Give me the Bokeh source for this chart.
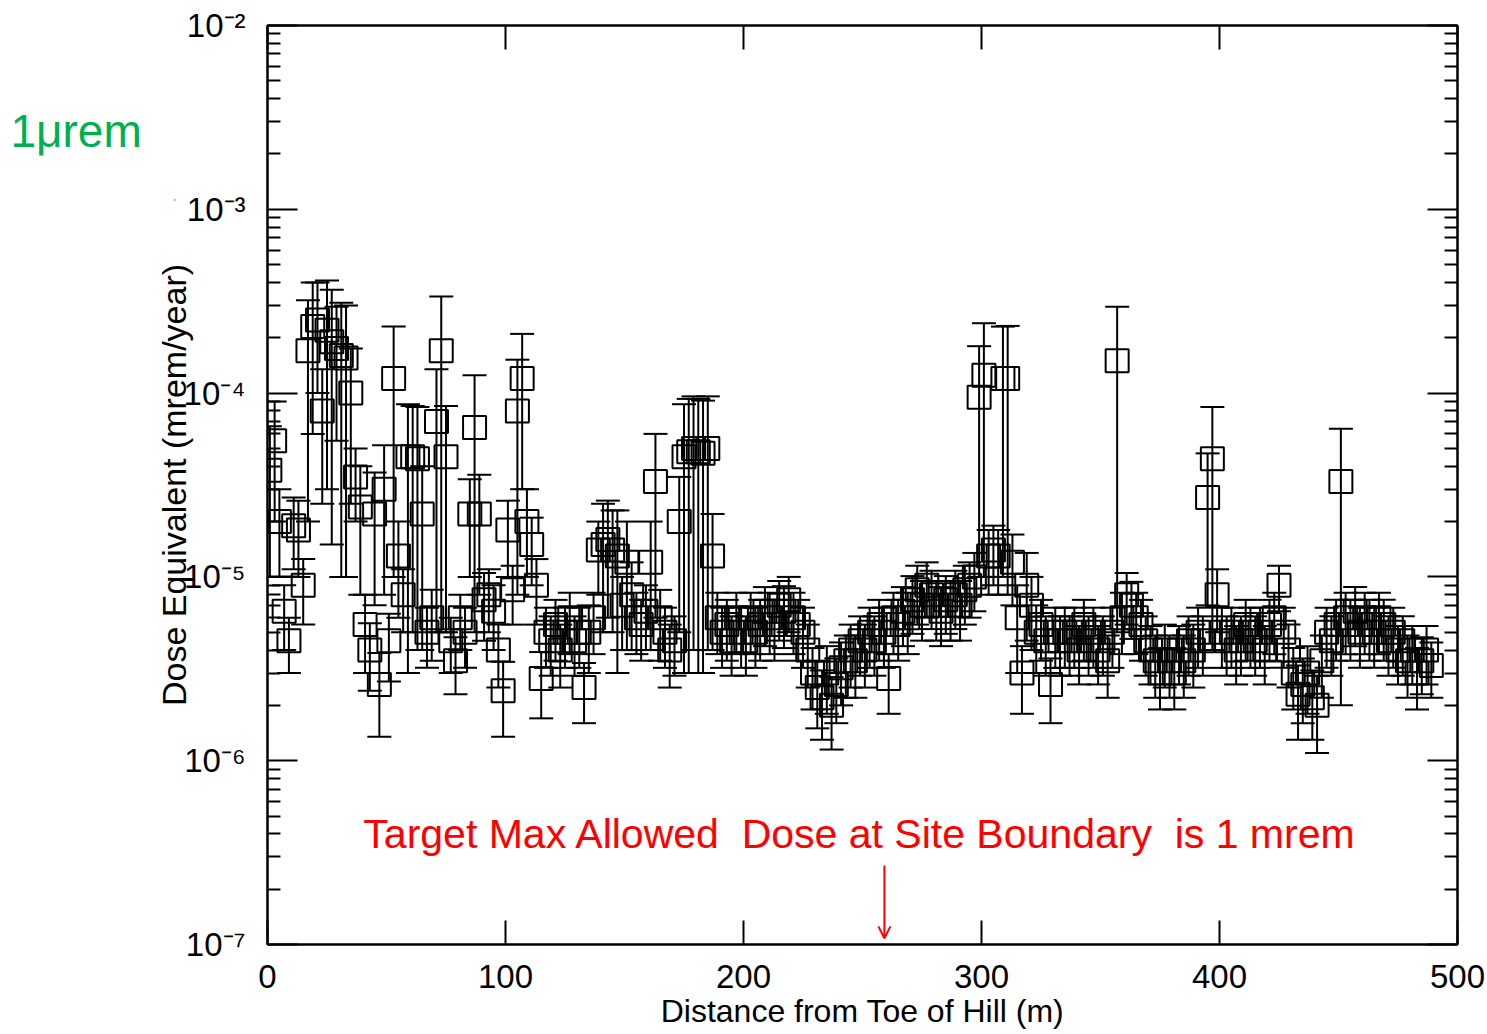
import numpy as np
from bokeh.plotting import figure
from bokeh.models import (ColumnDataSource, Whisker, TeeHead, FixedTicker, LogAxis,
                          LinearAxis, Label, Arrow, OpenHead, Range1d)
from bokeh.embed import file_html
from bokeh.resources import INLINE

# ---- data (dose in units of 1e-6 mrem/year) ----
distance_m = [
    1, 3, 5, 7, 9, 11, 13, 15, 17, 19,
    21, 23, 25, 27, 29, 31, 33, 35, 37, 39,
    41, 43, 45, 47, 49, 51, 53, 55, 57, 59,
    61, 63, 65, 67, 69, 71, 73, 75, 77, 79,
    81, 83, 85, 87, 89, 91, 93, 95, 97, 99,
    101, 103, 105, 107, 109, 111, 113, 115, 117, 119,
    121, 123, 125, 127, 129, 131, 133, 135, 137, 139,
    141, 143, 145, 147, 149, 151, 153, 155, 157, 159,
    161, 163, 165, 167, 169, 171, 173, 175, 177, 179,
    181, 183, 185, 187, 189, 191, 193, 195, 197, 199,
    201, 203, 205, 207, 209, 211, 213, 215, 217, 219,
    221, 223, 225, 227, 229, 231, 233, 235, 237, 239,
    241, 243, 245, 247, 249, 251, 253, 255, 257, 259,
    261, 263, 265, 267, 269, 271, 273, 275, 277, 279,
    281, 283, 285, 287, 289, 291, 293, 295, 297, 299,
    301, 303, 305, 307, 309, 311, 313, 315, 317, 319,
    321, 323, 325, 327, 329, 331, 333, 335, 337, 339,
    341, 343, 345, 347, 349, 351, 353, 355, 357, 359,
    361, 363, 365, 367, 369, 371, 373, 375, 377, 379,
    381, 383, 385, 387, 389, 391, 393, 395, 397, 399,
    401, 403, 405, 407, 409, 411, 413, 415, 417, 419,
    421, 423, 425, 427, 429, 431, 433, 435, 437, 439,
    441, 443, 445, 447, 449, 451, 453, 455, 457, 459,
    461, 463, 465, 467, 469, 471, 473, 475, 477, 479,
    481, 483, 485, 487, 489,
]

dose_u = [
    38, 55, 20, 6.5, 4.5, 19, 18, 9, 170, 230,
    250, 80, 220, 190, 175, 160, 155, 100, 35, 24,
    5.5, 4.0, 22, 2.6, 30, 4.5, 120, 13, 8, 45,
    45, 44, 22, 5, 6, 70, 170, 45, 4.5, 3.5,
    6, 5, 22, 65, 22, 7.5, 8, 6.5, 4, 2.4,
    18, 8.5, 80, 120, 20, 15, 9, 2.8, 5, 4.5,
    5.5, 4, 5, 6, 4.5, 5, 2.5, 5, 6, 14,
    15, 16, 14, 13, 7, 12, 8, 6, 5.5, 6.5,
    12, 33, 6, 5, 4, 4.5, 20, 45, 48, 50,
    48, 47, 50, 13, 6, 5, 5.5, 4.5, 6, 5,
    4.5, 6, 5, 5.5, 6.5, 6, 5.5, 7, 6.5, 7.5,
    6, 5.5, 5, 4, 3, 2.5, 2.2, 3, 2.0, 2.6,
    3.2, 3.5, 4, 3.5, 4.5, 4, 5, 4.5, 5.5, 5,
    2.8, 6, 5.5, 6.5, 6, 7.5, 8.5, 7, 9, 8,
    7, 6.5, 7.5, 7, 8, 7, 8.5, 9, 10, 95,
    125, 13, 14, 13, 120, 120, 12, 6, 3, 9,
    7, 5, 5.5, 4.5, 2.6, 5, 4.5, 5, 4.5, 5,
    4, 5.5, 4.5, 5, 4, 4.5, 3.5, 5, 150, 6,
    8, 7, 6, 5.5, 4.5, 4, 3.5, 3, 4, 3.5,
    3, 4, 3.5, 4.5, 4, 5, 4.5, 27, 44, 8,
    5, 4.5, 5, 4, 4.5, 5.5, 5, 4.5, 5, 4,
    5.5, 6, 9, 5, 4, 3, 2.3, 2.6, 3, 2.2,
    2.0, 3.5, 5, 4.5, 5.5, 33, 6, 5.5, 6.5, 5,
    6, 5.5, 5, 6, 5.5, 4.5, 5, 4, 4.5, 3.5,
    4, 3, 3.5, 4, 3.3,
]

err_u = [
    28, 35, 10, 2.5, 1.5, 8, 8, 3.5, 150, 170,
    150, 55, 190, 175, 120, 150, 145, 75, 15, 16,
    2.5, 1.6, 15, 1.25, 22, 1.8, 110, 7, 3, 42,
    40, 40, 18, 1.8, 2.5, 65, 165, 40, 1.5, 1.2,
    2, 1.8, 12, 60, 14, 3, 3, 2.5, 1.5, 1.05,
    8, 3, 72, 90, 10, 6, 3.5, 1.1, 1.8, 1.6,
    2, 1.5, 1.8, 2.2, 1.6, 1.8, 0.9, 2, 2.2, 6,
    10, 10, 9, 10, 3, 8, 4, 2.2, 2, 2.5,
    8, 27, 2.5, 1.8, 1.5, 1.6, 15, 42, 45, 46,
    45, 44, 46, 9, 2.2, 1.8, 2, 1.6, 2.2, 1.8,
    1.6, 2.2, 1.8, 2, 2.3, 2.2, 2, 2.5, 2.4, 2.5,
    2.2, 2, 1.8, 1.5, 1.1, 1.0, 0.9, 1.2, 0.85, 1.0,
    1.2, 1.3, 1.5, 1.3, 1.6, 1.5, 1.8, 1.6, 2, 1.8,
    1.0, 2.2, 2, 2.3, 2.2, 2.6, 3, 2.5, 3, 2.8,
    2.5, 2.3, 2.6, 2.5, 2.8, 2.5, 3, 3, 3.5, 85,
    115, 5, 5, 5, 110, 112, 5, 3, 1.2, 4.5,
    3, 2, 2, 1.6, 1.0, 1.8, 1.6, 1.8, 1.6, 1.8,
    1.4, 2, 1.6, 1.8, 1.4, 1.6, 1.3, 1.8, 145, 2.2,
    2.5, 2.4, 2.2, 2, 1.6, 1.4, 1.3, 1.1, 1.5, 1.3,
    1.1, 1.4, 1.3, 1.6, 1.5, 1.8, 1.6, 20, 40, 3,
    1.8, 1.6, 1.8, 1.4, 1.6, 2, 1.8, 1.6, 1.8, 1.4,
    2, 2.2, 2.5, 1.8, 1.5, 1.1, 1.0, 1.0, 1.2, 0.9,
    0.9, 1.3, 1.8, 1.6, 2, 31, 2.2, 2, 2.3, 1.8,
    2.2, 2, 1.8, 2.2, 2, 1.6, 1.8, 1.4, 1.6, 1.3,
    1.4, 1.1, 1.2, 1.4, 1.1,
]

decade_ticks = [1e-7, 1e-6, 1e-5, 1e-4, 1e-3, 1e-2]
decade_labels = ["10\u207b\u2077", "10\u207b\u2076", "10\u207b\u2075",
                 "10\u207b\u2074", "10\u207b\u00b3", "10\u207b\u00b2"]
x_ticks = [0, 100, 200, 300, 400, 500]

FONT = "Liberation Sans"

dose = np.array(dose_u) * 1e-6
err = np.array(err_u) * 1e-6
src = ColumnDataSource(dict(x=distance_m, y=dose, upper=dose + err, lower=dose - err))

W, H = 1487, 1034
BL, BR, BT, BB = 267, 30, 25, 90
p = figure(width=W, height=H, x_range=Range1d(0, 500), y_range=Range1d(1e-7, 1e-2),
           y_axis_type="log", output_backend="svg", toolbar_location=None, title=None,
           min_border_left=BL, min_border_right=BR, min_border_top=BT, min_border_bottom=BB)
p.background_fill_color = "white"
p.border_fill_color = "white"
p.outline_line_color = "black"
p.outline_line_width = 2
p.xgrid.visible = False
p.ygrid.visible = False

minor = [m * d for d in decade_ticks[:-1] for m in range(2, 10)]
yticker = FixedTicker(ticks=decade_ticks, minor_ticks=minor)
xticker = FixedTicker(ticks=x_ticks)

# bottom axis
xa = p.xaxis[0]
xa.ticker = xticker
xa.axis_label = "Distance from Toe of Hill (m)"
xa.axis_label_text_font = FONT
xa.axis_label_text_font_style = "normal"
xa.axis_label_text_font_size = "32px"
xa.axis_label_text_color = "black"
xa.axis_label_standoff = 2
xa.major_label_text_font = FONT
xa.major_label_text_font_size = "33px"
xa.major_label_text_color = "black"
xa.major_label_standoff = 20
xa.major_tick_in = 24
xa.major_tick_out = 0
xa.minor_tick_line_color = None
xa.axis_line_width = 2
xa.major_tick_line_width = 2

# left axis
ya = p.yaxis[0]
ya.ticker = yticker
ya.major_label_overrides = dict(zip(decade_ticks, decade_labels))
ya.axis_label = "Dose Equivalent (mrem/year)"
ya.axis_label_text_font = FONT
ya.axis_label_text_font_style = "normal"
ya.axis_label_text_font_size = "34px"
ya.axis_label_text_color = "black"
ya.axis_label_standoff = -12
ya.major_label_text_font = FONT
ya.major_label_text_font_size = "33px"
ya.major_label_text_color = "black"
ya.major_label_standoff = 22
ya.major_tick_in = 30
ya.major_tick_out = 0
ya.minor_tick_in = 13
ya.minor_tick_out = 0
ya.axis_line_width = 2
ya.major_tick_line_width = 2
ya.minor_tick_line_width = 2

# right axis (ticks only)
ra = LogAxis(ticker=yticker, major_tick_in=30, major_tick_out=0, minor_tick_in=13,
             minor_tick_out=0, major_label_standoff=0,
             major_label_overrides={t: "" for t in decade_ticks},
             major_label_text_color=None,
             axis_line_width=2, major_tick_line_width=2, minor_tick_line_width=2)
p.add_layout(ra, "right")

# top axis (ticks only)
ta = LinearAxis(ticker=xticker, major_tick_in=24, major_tick_out=0,
                minor_tick_line_color=None, major_label_standoff=0,
                major_label_overrides={t: "" for t in x_ticks},
                major_label_text_color=None,
                axis_line_width=2, major_tick_line_width=2)
p.add_layout(ta, "above")

# error bars and markers
wh = Whisker(source=src, base="x", upper="upper", lower="lower", dimension="height",
             line_color="black", line_width=2,
             upper_head=TeeHead(size=24, line_color="black", line_width=2),
             lower_head=TeeHead(size=24, line_color="black", line_width=2))
p.add_layout(wh)
p.scatter("x", "y", source=src, marker="square", size=23, fill_color=None,
          line_color="black", line_width=2)

# annotations
p.add_layout(Label(x=249, y=3.97e-7,
                   text="Target Max Allowed\u00a0 Dose at Site Boundary\u00a0 is 1 mrem",
                   text_align="center", text_baseline="alphabetic", text_color="#ff0000",
                   text_font=FONT, text_font_size="41px"))
p.add_layout(Arrow(x_start=259.2, y_start=2.69e-7, x_end=259.2, y_end=1.08e-7,
                   line_color="#ff0000", line_width=2,
                   end=OpenHead(size=12, line_color="#ff0000", line_width=2)))

GREEN = "#00b050"
p.add_layout(Label(x=-108, y=2.68e-3, text="1\u03bcrem", text_align="left",
                   text_baseline="alphabetic", text_color=GREEN,
                   text_font=FONT, text_font_size="46px"), "left")
p.add_layout(Arrow(x_start=-70.2, y_start=1.73e-3, x_end=-38.7, y_end=1.117e-3,
                   line_color=GREEN, line_width=2,
                   end=OpenHead(size=14, line_color=GREEN, line_width=2)), "left")

open("out.html", "w").write(file_html(p, INLINE))
